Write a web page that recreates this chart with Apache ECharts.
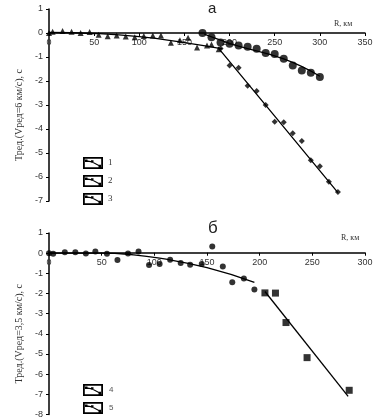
<!DOCTYPE html>
<html><head><meta charset="utf-8">
<script src="https://cdn.jsdelivr.net/npm/echarts@6/dist/echarts.min.js"></script>
<style>html,body{margin:0;padding:0;background:#fff}#c{width:382px;height:419px}</style>
</head><body><div id="c"></div>
<script>
// Panel a
const r1 = [0,4,15,25,35,45,55,65,75,85,95,105,115,124,135,145,154,164,175,180,188];
const t1 = [0,0.05,0.08,0.05,0,0.04,-0.07,-0.14,-0.1,-0.15,-0.18,-0.12,-0.1,-0.1,-0.41,-0.3,-0.2,-0.6,-0.52,-0.48,-0.68];
const fitR1 = [0,50,100,150,192];
const fitT1 = [0.02,-0.02,-0.15,-0.4,-0.66];
const r2 = [170,180,190,200,210,220,230,240,250,260,270,280,290,300];
const t2 = [0,-0.18,-0.4,-0.45,-0.52,-0.57,-0.66,-0.83,-0.88,-1.07,-1.35,-1.56,-1.66,-1.83];
const fitR2 = [172,190,210,260,300];
const fitT2 = [-0.05,-0.3,-0.55,-1.08,-1.8];
const r3 = [190,200,210,220,230,240,250,260,270,280,290,300,310,320];
const t3 = [-0.65,-1.35,-1.45,-2.2,-2.42,-3.0,-3.7,-3.72,-4.18,-4.5,-5.3,-5.55,-6.2,-6.62];
const fitR3 = [187,250,320];
const fitT3 = [-0.6,-3.46,-6.65];
// Panel б
const r4 = [0,4,15,25,35,44,55,65,75,85,95,105,115,125,134,145,155,165,174,185,195];
const t4 = [0,-0.03,0.05,0.05,-0.02,0.08,-0.03,-0.34,-0.02,0.08,-0.59,-0.54,-0.33,-0.49,-0.57,-0.54,0.33,-0.66,-1.44,-1.25,-1.8];
const fitR4 = [0,50,80,105,150,195];
const fitT4 = [0,0,-0.08,-0.25,-0.72,-1.45];
const r5 = [205,215,225,245,285];
const t5 = [-1.97,-1.98,-3.44,-5.18,-6.8];
const fitR5 = [205,284];
const fitT5 = [-1.9,-7.1];

const titleA = 'а', titleB = 'б';
const yNameA = 'Тред.(Vред=6 км/с), с';
const yNameB = 'Тред.(Vред=3,5 км/с), с';
const xName = 'R, км';

const pairs = (xs, ys) => xs.map((x, i) => [x, ys[i]]);
const legendIcon = 'path://M0,0H20V12H0Z M1.8,1.8V10.2H18.2V1.8Z M2,3L9,4.2L17,8.6L17,9.8L9,5.4L2,4.2Z M2,2.5h2.5v2.5h-2.5Z M8,3.3h2.5v2.5h-2.5Z M15.5,7.8h2.5v2.5h-2.5Z';

const sansFont = 'Liberation Sans, Arial, sans-serif';
const serifFont = 'Liberation Serif, Times New Roman, serif';

// grid geometry (layout only)
const G = [{top: 9, bottom: 218, ymin: -7}, {top: 233, bottom: 4, ymin: -8}];
function zeroOffset(g) {
  const h = 419 - g.top - g.bottom;
  const unit = h / (1 - g.ymin);
  return -(h - unit); // move bottom axis up to y=0
}

function xAx(idx, max, gap, pad) {
  return {
    type: 'value', gridIndex: idx, min: 0, max: max, interval: 50,
    position: 'bottom', offset: zeroOffset(G[idx]),
    axisLine: {onZero: false, lineStyle: {color: '#000', width: 1.5}},
    axisTick: {show: true, length: 3, lineStyle: {color: '#000'}},
    axisLabel: {color: '#333', fontSize: 9, fontFamily: sansFont, margin: 5},
    splitLine: {show: false},
    name: xName, nameLocation: 'end', nameGap: gap,
    nameTextStyle: {fontFamily: serifFont, fontSize: 8, color: '#333', verticalAlign: 'bottom', align: 'left', padding: [0,0,pad,0]}
  };
}
function yAx(idx, min, name) {
  return {
    type: 'value', gridIndex: idx, min: min, max: 1, interval: 1,
    axisLine: {show: true, onZero: false, lineStyle: {color: '#000', width: 1.5}},
    axisTick: {show: true, length: 3, lineStyle: {color: '#000'}},
    axisLabel: {color: '#333', fontSize: 9, fontFamily: sansFont, margin: 6},
    splitLine: {show: false},
    name: name, nameLocation: 'middle', nameGap: 24,
    nameTextStyle: {fontFamily: serifFont, fontSize: 10, color: '#333', padding: [0, 20, 0, 0]}
  };
}
function sc(name, idx, xs, ys, symbol, size) {
  return {type: 'scatter', name: name, xAxisIndex: idx, yAxisIndex: idx, data: pairs(xs, ys),
    symbol: symbol, symbolSize: size, itemStyle: {color: '#000'}, z: 3};
}
function ln(name, idx, xs, ys, smooth) {
  return {type: 'line', name: name, xAxisIndex: idx, yAxisIndex: idx, data: pairs(xs, ys),
    showSymbol: false, smooth: smooth, lineStyle: {color: '#000', width: 1.3}, itemStyle: {color: '#000'}, z: 2};
}

const chart = echarts.init(document.getElementById('c'), null, {renderer: 'canvas'});
chart.setOption({
  animation: false,
  title: [
    {text: titleA, left: 203, top: -4, textStyle: {fontFamily: sansFont, fontSize: 15, fontWeight: 'normal', color: '#222'}},
    {text: titleB, left: 203, top: 215, textStyle: {fontFamily: sansFont, fontSize: 17, fontWeight: 'normal', color: '#222'}}
  ],
  grid: G.map(g => ({left: 49, right: 17, top: g.top, bottom: g.bottom})),
  xAxis: [xAx(0, 350, -31, 5), xAx(1, 300, -24, 11)],
  yAxis: [yAx(0, -7, yNameA), yAx(1, -8, yNameB)],
  legend: [
    {data: ['1','2','3'], orient: 'vertical', left: 83, top: 157, padding: 0, itemWidth: 20, itemHeight: 12, itemGap: 6,
     icon: legendIcon, textStyle: {fontFamily: serifFont, fontSize: 9, color: '#333'}, selectedMode: false},
    {data: ['4','5'], orient: 'vertical', left: 83, top: 384, padding: 0, itemWidth: 22, itemHeight: 12, itemGap: 6,
     icon: legendIcon, textStyle: {fontFamily: sansFont, fontSize: 8, color: '#555'}, selectedMode: false}
  ],
  series: [
    ln('1', 0, fitR1, fitT1, true), sc('1', 0, r1, t1, 'triangle', 6),
    ln('2', 0, fitR2, fitT2, true), sc('2', 0, r2, t2, 'circle', 8),
    ln('3', 0, fitR3, fitT3, false), sc('3', 0, r3, t3, 'diamond', 6),
    ln('4', 1, fitR4, fitT4, true), sc('4', 1, r4, t4, 'circle', 6),
    ln('5', 1, fitR5, fitT5, false), sc('5', 1, r5, t5, 'rect', 7)
  ]
});
</script></body></html>
